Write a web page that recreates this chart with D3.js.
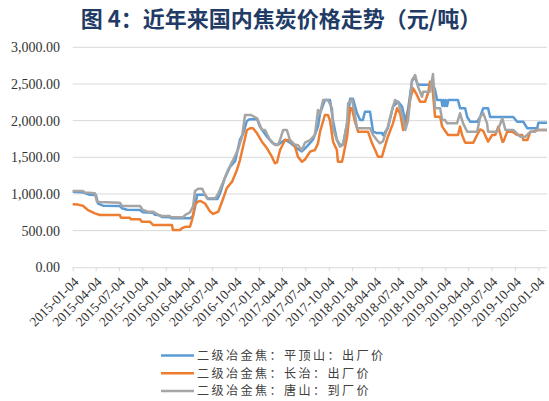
<!DOCTYPE html>
<html><head><meta charset="utf-8">
<script src="https://cdn.jsdelivr.net/npm/d3@7"></script>
<style>
html,body{margin:0;padding:0;background:#fff;}
svg{display:block;}
.serif{font-family:"Liberation Serif","Times New Roman",serif;}
</style></head>
<body>
<svg id="chart" width="549" height="401"></svg>
<script>
const title = "图 4：近年来国内焦炭价格走势（元/吨）";
const seriesNames = ["二级冶金焦：平顶山：出厂价", "二级冶金焦：长治：出厂价", "二级冶金焦：唐山：到厂价"];
const yTicks = [0, 500, 1000, 1500, 2000, 2500, 3000];
const xTickLabels = ["2015-01-04","2015-04-04","2015-07-04","2015-10-04","2016-01-04","2016-04-04","2016-07-04","2016-10-04","2017-01-04","2017-04-04","2017-07-04","2017-10-04","2018-01-04","2018-04-04","2018-07-04","2018-10-04","2019-01-04","2019-04-04","2019-07-04","2019-10-04","2020-01-04"];
const xDomain = ["2015-01-04", "2020-02-07"];

const pdsDates = ["2015-01-04","2015-02-09","2015-03-12","2015-04-05","2015-04-13","2015-05-03","2015-07-08","2015-07-16","2015-08-05","2015-09-25","2015-10-06","2015-11-15","2015-11-23","2015-12-12","2015-12-20","2016-01-20","2016-01-28","2016-04-08","2016-04-20","2016-04-28","2016-05-06","2016-06-06","2016-06-18","2016-07-24","2016-08-03","2016-08-22","2016-09-12","2016-10-02","2016-10-21","2016-11-02","2016-11-17","2016-11-29","2016-12-27","2017-01-07","2017-02-04","2017-02-27","2017-03-19","2017-04-16","2017-05-05","2017-06-02","2017-06-21","2017-07-11","2017-08-03","2017-08-23","2017-08-31","2017-09-19","2017-10-09","2017-10-21","2017-11-05","2017-11-17","2017-11-29","2017-12-15","2017-12-27","2018-01-07","2018-01-23","2018-02-04","2018-02-15","2018-02-23","2018-03-15","2018-03-27","2018-04-11","2018-05-01","2018-05-05","2018-05-24","2018-06-13","2018-07-03","2018-07-19","2018-07-31","2018-08-11","2018-08-27","2018-09-08","2018-09-19","2018-11-17","2018-11-25","2018-12-03","2018-12-20","2018-12-24","2018-12-28","2019-01-02","2019-01-06","2019-01-11","2019-01-16","2019-01-21","2019-02-23","2019-03-03","2019-03-23","2019-03-31","2019-04-12","2019-05-09","2019-05-21","2019-06-02","2019-06-21","2019-06-29","2019-09-28","2019-10-13","2019-11-06","2019-11-22","2019-12-31","2020-01-04","2020-02-07"];
const pdsValues = [1030,1025,990,985,870,840,835,805,785,780,750,745,715,710,685,682,668,668,700,830,990,990,930,930,1000,1210,1370,1450,1740,1820,1995,2020,2020,1920,1780,1690,1670,1740,1700,1620,1580,1650,1740,1920,2100,2280,2280,2000,1740,1670,1670,1960,2300,2300,2100,2010,2010,2120,2120,1850,1830,1830,1800,1900,2190,2260,2190,1990,2150,2550,2580,2490,2490,2420,2280,2280,2200,2280,2200,2280,2200,2280,2280,2280,2170,2170,2050,1985,1985,2050,2170,2170,2050,2050,1985,1985,1895,1895,1970,1970];

const czDates = ["2015-01-04","2015-01-25","2015-02-13","2015-03-05","2015-04-01","2015-04-21","2015-07-08","2015-07-12","2015-08-16","2015-08-20","2015-09-25","2015-10-02","2015-11-03","2015-11-15","2016-01-28","2016-02-01","2016-02-29","2016-03-07","2016-03-23","2016-04-08","2016-04-16","2016-04-28","2016-05-10","2016-05-18","2016-06-06","2016-06-26","2016-07-08","2016-07-28","2016-08-14","2016-08-30","2016-09-20","2016-10-09","2016-10-21","2016-11-02","2016-11-17","2016-11-29","2016-12-11","2016-12-27","2017-01-15","2017-02-04","2017-02-23","2017-03-07","2017-03-15","2017-03-27","2017-04-16","2017-05-05","2017-05-25","2017-06-05","2017-06-21","2017-07-03","2017-07-23","2017-08-11","2017-08-23","2017-08-31","2017-09-19","2017-10-01","2017-10-09","2017-10-21","2017-11-05","2017-11-09","2017-11-25","2017-11-29","2017-12-15","2017-12-27","2018-01-03","2018-01-15","2018-01-27","2018-03-07","2018-03-23","2018-04-07","2018-04-15","2018-05-01","2018-05-05","2018-05-24","2018-06-13","2018-06-29","2018-07-11","2018-07-23","2018-08-07","2018-08-19","2018-08-31","2018-09-15","2018-09-27","2018-10-17","2018-10-29","2018-11-05","2018-11-13","2018-11-25","2018-12-15","2018-12-23","2019-01-15","2019-02-23","2019-03-03","2019-03-11","2019-03-23","2019-04-24","2019-05-09","2019-05-21","2019-06-02","2019-06-21","2019-07-07","2019-07-19","2019-07-31","2019-08-16","2019-08-20","2019-09-04","2019-09-24","2019-10-13","2019-11-02","2019-11-06","2019-11-22","2019-12-04","2019-12-15","2019-12-31","2020-02-07"];
const czValues = [860,855,840,780,735,713,713,677,677,654,654,622,622,577,577,509,509,532,554,554,645,860,895,905,870,760,727,760,918,1077,1168,1327,1463,1645,1872,1895,1895,1827,1713,1622,1509,1418,1430,1600,1736,1736,1645,1509,1440,1470,1577,1600,1690,1850,2077,2077,2000,1713,1600,1440,1440,1500,1781,2168,2168,1986,1850,1850,1691,1577,1509,1509,1560,1781,1963,2168,2100,1872,2000,2281,2441,2350,2259,2259,2380,2531,2520,2054,2054,1918,1804,1804,1918,1804,1700,1700,1804,1880,1860,1713,1804,1804,1918,1713,1713,1850,1850,1804,1804,1736,1736,1850,1850,1872,1872];

const tsDates = ["2015-01-04","2015-02-13","2015-02-21","2015-04-01","2015-04-09","2015-04-21","2015-07-08","2015-07-16","2015-09-25","2015-10-06","2015-10-26","2015-11-15","2015-12-04","2015-12-12","2016-01-20","2016-01-24","2016-03-11","2016-03-23","2016-04-08","2016-04-20","2016-04-28","2016-05-10","2016-05-26","2016-06-06","2016-06-14","2016-07-16","2016-07-28","2016-08-14","2016-09-04","2016-09-24","2016-10-13","2016-10-29","2016-11-10","2016-12-03","2016-12-27","2017-01-15","2017-01-27","2017-02-16","2017-03-07","2017-03-19","2017-03-27","2017-04-08","2017-04-23","2017-05-05","2017-05-25","2017-06-05","2017-06-21","2017-07-03","2017-07-23","2017-08-11","2017-08-23","2017-08-31","2017-09-12","2017-10-01","2017-10-17","2017-10-21","2017-11-05","2017-11-17","2017-11-29","2017-12-15","2017-12-19","2018-01-03","2018-01-15","2018-01-23","2018-03-15","2018-03-27","2018-04-11","2018-04-23","2018-05-05","2018-05-24","2018-06-09","2018-06-21","2018-07-03","2018-07-19","2018-07-31","2018-08-11","2018-08-27","2018-09-08","2018-09-19","2018-10-05","2018-10-09","2018-11-05","2018-11-17","2018-11-25","2018-12-15","2018-12-23","2019-01-03","2019-01-11","2019-02-19","2019-03-03","2019-03-15","2019-03-31","2019-05-09","2019-05-21","2019-06-02","2019-06-17","2019-06-21","2019-07-27","2019-08-16","2019-08-28","2019-09-28","2019-10-25","2019-11-14","2019-12-04","2019-12-23","2019-12-31","2020-02-07"];
const tsValues = [1040,1040,1020,1009,895,890,881,836,836,781,759,759,720,700,700,682,682,720,750,830,1040,1070,1070,990,941,941,1009,1145,1327,1463,1600,1781,2077,2077,2032,1872,1872,1736,1668,1668,1736,1872,1872,1736,1668,1668,1600,1700,1736,1805,2145,2100,2281,2281,2168,1895,1736,1645,1668,1963,2236,2290,2077,1895,1895,1804,1736,1691,1720,1918,2145,2281,2250,2077,1872,2000,2554,2622,2463,2327,2395,2395,2636,2168,2168,2009,2009,1963,1963,2100,1963,1850,1850,2054,2100,1963,1850,1850,2032,1872,1872,1781,1781,1850,1850,1872,1872];

const colors = ["#5B9BD5", "#ED7D31", "#A5A5A5"];

const parse = d3.timeParse("%Y-%m-%d");
const series = [
  {name: seriesNames[0], dates: pdsDates, values: pdsValues, color: colors[0]},
  {name: seriesNames[1], dates: czDates, values: czValues, color: colors[1]},
  {name: seriesNames[2], dates: tsDates, values: tsValues, color: colors[2]}
].map(s => ({...s, points: s.dates.map((d, i) => ({date: parse(d), value: s.values[i]}))}));

const svg = d3.select("#chart");
const mLeft = 72.7, mRight = 547, mTop = 47.3, mBottom = 267.3;

const x = d3.scaleTime().domain(xDomain.map(parse)).range([mLeft, mRight]);
const y = d3.scaleLinear().domain([0, 3000]).range([mBottom, mTop]);

// title
svg.append("text")
  .attr("x", 281).attr("y", 27)
  .attr("text-anchor", "middle")
  .style("font-family", "'Noto Sans CJK SC', sans-serif")
  .attr("font-weight", "bold")
  .attr("font-size", 22)
  .attr("fill", "#1F3B66")
  .text(title);

// gridlines
svg.append("g").selectAll("line").data(yTicks.filter(t => t > 0)).join("line")
  .attr("x1", mLeft).attr("x2", mRight)
  .attr("y1", d => y(d)).attr("y2", d => y(d))
  .attr("stroke", "#D9D9D9").attr("stroke-width", 1);

// y labels
const fmt = d3.format(",.2f");
svg.append("g").selectAll("text").data(yTicks).join("text")
  .attr("class", "serif")
  .attr("x", 60).attr("y", d => y(d))
  .attr("dy", "0.35em")
  .attr("text-anchor", "end")
  .style("font-size", "14px")
  .attr("fill", "#333")
  .text(d => fmt(d));

// x axis
const xAxis = d3.axisBottom(x)
  .tickValues(xTickLabels.map(parse))
  .tickSize(4)
  .tickFormat(d3.timeFormat("%Y-%m-%d"));
const gx = svg.append("g").attr("transform", `translate(0,${mBottom})`).call(xAxis);
gx.attr("font-family", null).attr("font-size", null);
gx.select(".domain").attr("stroke", "#D9D9D9").attr("d", `M${mLeft},0.5H${mRight}`);
gx.selectAll(".tick line").attr("stroke", "#D9D9D9");
gx.selectAll(".tick text")
  .attr("class", "serif")
  .style("font-size", "13.5px")
  .attr("fill", "#333")
  .attr("text-anchor", "end")
  .attr("dy", "0.35em")
  .attr("transform", "translate(3,12) rotate(-45)")
  .attr("y", 0).attr("x", 0);

// lines
const line = d3.line().x(d => x(d.date)).y(d => y(d.value)).curve(d3.curveLinear);
svg.append("g").selectAll("path").data(series).join("path")
  .attr("d", d => line(d.points))
  .attr("fill", "none")
  .attr("stroke", d => d.color)
  .attr("stroke-width", 2.5)
  .attr("stroke-linejoin", "round");

// legend
const lg = svg.append("g");
const legendRows = [355.5, 373.3, 391.1];
series.forEach((s, i) => {
  const g = lg.append("g").attr("transform", `translate(0,${legendRows[i]})`);
  g.append("line").attr("x1", 161).attr("x2", 194).attr("y1", 0).attr("y2", 0)
    .attr("stroke", s.color).attr("stroke-width", 2.5);
  g.append("text").attr("x", 197).attr("y", 0).attr("dy", "0.36em")
    .style("font-family", "'Noto Sans CJK SC', sans-serif")
    .style("font-size", "12.1px")
    .style("letter-spacing", "2.4px")
    .attr("fill", "#404040")
    .text(s.name);
});
</script>
</body></html>
